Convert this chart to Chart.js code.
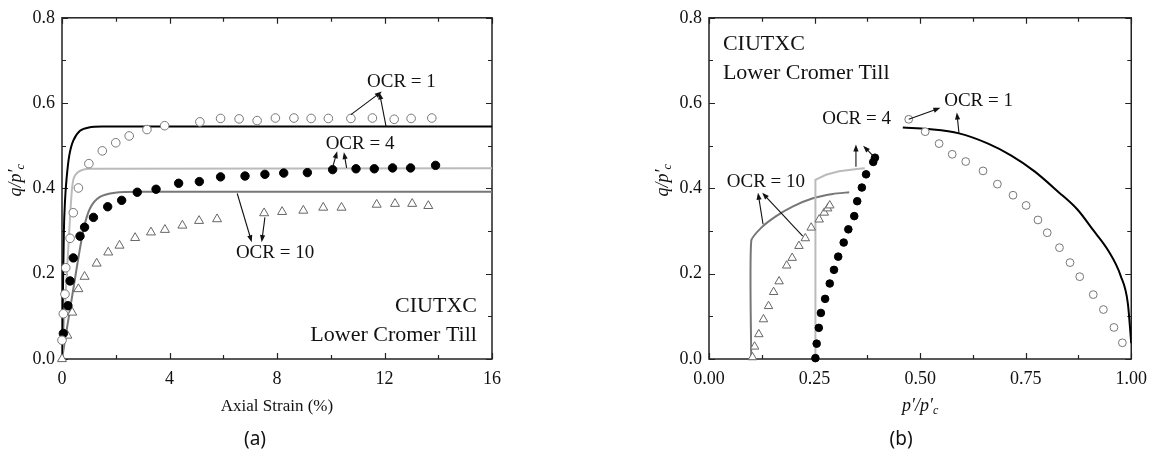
<!DOCTYPE html>
<html lang="en">
<head>
    <meta charset="UTF-8">
    <title>CIUTXC Lower Cromer Till</title>
    <script src="https://cdn.jsdelivr.net/npm/chart.js"></script>
    <style>
        body { margin: 0; background: #fff; }
        #wrap { position: relative; width: 1156px; height: 457px; overflow: hidden; }
        canvas { position: absolute; top: 0; }
        #chartA { left: 0; }
        #chartB { left: 580px; }
    </style>
</head>
<body>
<div id="wrap">
    <canvas id="chartA" width="540" height="457"></canvas>
    <canvas id="chartB" width="576" height="457"></canvas>
</div>
<script>
    // ---- panel (a): q/p'c against axial strain (%) ----
    var strainOcr1 = [0, 0.05, 0.11, 0.14, 0.3, 0.42, 0.61, 1.0, 1.5, 2.0, 2.5, 3.16, 3.82, 5.13, 5.9, 6.59, 7.26, 7.94, 8.63, 9.27, 9.91, 10.75, 11.55, 12.36, 12.99, 13.76];
    var qOcr1 = [0.044, 0.106, 0.152, 0.214, 0.283, 0.343, 0.401, 0.458, 0.488, 0.507, 0.523, 0.538, 0.547, 0.556, 0.564, 0.563, 0.559, 0.565, 0.565, 0.564, 0.564, 0.564, 0.565, 0.562, 0.564, 0.565];
    var strainOcr4 = [0.05, 0.22, 0.3, 0.42, 0.67, 0.84, 1.17, 1.7, 2.22, 2.8, 3.5, 4.34, 5.11, 5.9, 6.81, 7.55, 8.25, 9.13, 10.07, 10.94, 11.62, 12.3, 12.97, 13.9];
    var qOcr4 = [0.06, 0.125, 0.183, 0.237, 0.288, 0.309, 0.332, 0.357, 0.372, 0.391, 0.398, 0.412, 0.416, 0.427, 0.429, 0.433, 0.436, 0.437, 0.444, 0.446, 0.446, 0.448, 0.448, 0.454];
    var strainOcr10 = [0, 0.2, 0.38, 0.61, 0.84, 1.29, 1.72, 2.14, 2.72, 3.31, 3.83, 4.48, 5.1, 5.77, 7.52, 8.19, 8.98, 9.72, 10.4, 11.71, 12.39, 13.03, 13.63];
    var qOcr10 = [0, 0.055, 0.109, 0.164, 0.193, 0.224, 0.25, 0.266, 0.284, 0.297, 0.303, 0.313, 0.324, 0.328, 0.342, 0.345, 0.348, 0.355, 0.355, 0.362, 0.364, 0.364, 0.359];

    // model curves (a)
    var fitStrain1 = [0, 0.07, 0.11, 0.17, 0.27, 0.42, 0.67, 1.0, 1.5, 16];
    var fitQ1 = [0, 0.3, 0.369, 0.423, 0.477, 0.512, 0.535, 0.543, 0.545, 0.545];
    var fitStrain4 = [0, 0.27, 0.36, 0.42, 0.5, 0.7, 1.0, 16];
    var fitQ4 = [0, 0.3, 0.39, 0.42, 0.432, 0.442, 0.446, 0.447];
    var fitStrain10 = [0, 0.4, 0.79, 1.04, 1.41, 1.97, 3, 16];
    var fitQ10 = [0, 0.156, 0.3, 0.353, 0.38, 0.39, 0.392, 0.392];

    // ---- panel (b): q/p'c against p'/p'c ----
    var pOcr1 = [0.473, 0.512, 0.545, 0.576, 0.608, 0.649, 0.683, 0.72, 0.751, 0.779, 0.801, 0.83, 0.855, 0.878, 0.91, 0.934, 0.959, 0.979];
    var qOcr1b = [0.562, 0.533, 0.505, 0.48, 0.463, 0.441, 0.41, 0.384, 0.36, 0.326, 0.296, 0.261, 0.226, 0.193, 0.151, 0.116, 0.074, 0.038];
    var pOcr4 = [0.252, 0.255, 0.26, 0.265, 0.275, 0.286, 0.296, 0.306, 0.319, 0.33, 0.344, 0.351, 0.362, 0.372, 0.389, 0.393];
    var qOcr4b = [0.002, 0.036, 0.073, 0.108, 0.141, 0.177, 0.209, 0.24, 0.273, 0.304, 0.335, 0.37, 0.402, 0.433, 0.462, 0.472];
    var pOcr10 = [0.103, 0.108, 0.118, 0.129, 0.141, 0.153, 0.166, 0.184, 0.197, 0.213, 0.228, 0.242, 0.261, 0.273, 0.281, 0.286];
    var qOcr10b = [0.004, 0.029, 0.058, 0.093, 0.124, 0.157, 0.182, 0.219, 0.237, 0.265, 0.283, 0.308, 0.327, 0.343, 0.353, 0.36];

    // model curves (b)
    var fitP1 = [0.459, 0.52, 0.592, 0.661, 0.716, 0.771, 0.826, 0.873, 0.91, 0.945, 0.975, 0.992, 1.0];
    var fitQ1b = [0.543, 0.539, 0.529, 0.505, 0.477, 0.44, 0.393, 0.35, 0.302, 0.255, 0.195, 0.13, 0.037];
    var fitP4 = [0.252, 0.252, 0.277, 0.308, 0.355, 0.369];
    var fitQ4b = [0, 0.42, 0.432, 0.44, 0.446, 0.447];
    var fitP10 = [0.1, 0.1, 0.124, 0.159, 0.199, 0.246, 0.293, 0.332];
    var fitQ10b = [0, 0.277, 0.308, 0.335, 0.358, 0.377, 0.387, 0.391];

    var serif = '"Liberation Serif", "Times New Roman", serif';

    function pts(xs, ys) {
        return xs.map(function (v, i) { return { x: v, y: ys[i] }; });
    }

    function openCircles(xs, ys, r) {
        return { data: pts(xs, ys), pointStyle: 'circle', pointRadius: r, backgroundColor: '#fff',
            borderColor: '#777', pointBorderWidth: 1, showLine: false, clip: false };
    }
    function dots(xs, ys, r) {
        return { data: pts(xs, ys), pointStyle: 'circle', pointRadius: r, backgroundColor: '#000',
            borderColor: '#000', pointBorderWidth: 1, showLine: false, clip: false };
    }
    function triangles(xs, ys, r) {
        return { data: pts(xs, ys), pointStyle: 'triangle', pointRadius: r, backgroundColor: '#fff',
            borderColor: '#666', pointBorderWidth: 1, showLine: false, clip: false };
    }
    function curve(xs, ys, color, w, tension) {
        return { data: pts(xs, ys), showLine: true, pointRadius: 0, borderColor: color,
            borderWidth: w, tension: tension, fill: false };
    }

    // rich text: q/p'c with subscript
    function drawParts(ctx, parts, cx, cy) {
        var total = 0;
        parts.forEach(function (p) {
            ctx.font = 'italic ' + p.size + 'px ' + serif;
            p.w = ctx.measureText(p.t).width;
            total += p.w;
        });
        var x = cx - total / 2;
        ctx.textBaseline = 'middle';
        ctx.textAlign = 'left';
        parts.forEach(function (p) {
            ctx.font = 'italic ' + p.size + 'px ' + serif;
            ctx.fillText(p.t, x, cy + (p.dy || 0));
            x += p.w;
        });
    }

    function arrow(ctx, x1, y1, x2, y2) {
        var ang = Math.atan2(y2 - y1, x2 - x1);
        var hl = 7, hw = 2.6;
        ctx.beginPath();
        ctx.moveTo(x1, y1);
        ctx.lineTo(x2 - Math.cos(ang) * hl * 0.8, y2 - Math.sin(ang) * hl * 0.8);
        ctx.stroke();
        ctx.beginPath();
        ctx.moveTo(x2, y2);
        ctx.lineTo(x2 - Math.cos(ang) * hl - Math.sin(ang) * hw, y2 - Math.sin(ang) * hl + Math.cos(ang) * hw);
        ctx.lineTo(x2 - Math.cos(ang) * hl + Math.sin(ang) * hw, y2 - Math.sin(ang) * hl - Math.cos(ang) * hw);
        ctx.closePath();
        ctx.fill();
    }

    var framePlugin = {
        id: 'frame',
        beforeDatasetsDraw: function (chart, args, opts) {
            var ctx = chart.ctx, a = chart.chartArea, sx = chart.scales.x, sy = chart.scales.y;
            ctx.save();
            ctx.strokeStyle = '#222';
            ctx.lineWidth = 1.5;
            ctx.strokeRect(a.left, a.top, a.right - a.left, a.bottom - a.top);
            ctx.lineWidth = 1.2;
            var xv = sx.ticks.map(function (t) { return t.value; });
            var yv = sy.ticks.map(function (t) { return t.value; });
            function xtick(v, len) {
                var px = Math.round(sx.getPixelForValue(v)) + 0.5;
                ctx.beginPath();
                ctx.moveTo(px, a.bottom); ctx.lineTo(px, a.bottom - len);
                ctx.moveTo(px, a.top); ctx.lineTo(px, a.top + len);
                ctx.stroke();
            }
            function ytick(v, len) {
                var py = Math.round(sy.getPixelForValue(v)) + 0.5;
                ctx.beginPath();
                ctx.moveTo(a.left, py); ctx.lineTo(a.left + len, py);
                ctx.moveTo(a.right, py); ctx.lineTo(a.right - len, py);
                ctx.stroke();
            }
            xv.forEach(function (v, i) {
                xtick(v, 6);
                if (i < xv.length - 1) xtick((v + xv[i + 1]) / 2, 4);
            });
            yv.forEach(function (v, i) {
                ytick(v, 6);
                if (i < yv.length - 1) ytick((v + yv[i + 1]) / 2, 4);
            });
            ctx.restore();
        },
        afterDraw: function (chart, args, opts) {
            var ctx = chart.ctx, a = chart.chartArea, sx = chart.scales.x, sy = chart.scales.y;
            ctx.save();
            ctx.fillStyle = '#111';
            ctx.strokeStyle = '#111';
            ctx.lineWidth = 1.1;

            // y title, rotated
            ctx.save();
            ctx.translate(a.left - 46, (a.top + a.bottom) / 2 - 8);
            ctx.rotate(-Math.PI / 2);
            drawParts(ctx, [{ t: 'q/p′', size: 18 }, { t: 'c', size: 12, dy: 5 }], 0, 0);
            ctx.restore();

            // x title
            var midX = (a.left + a.right) / 2;
            if (opts.xTitle === 'strain') {
                ctx.font = '17px ' + serif;
                ctx.textAlign = 'center';
                ctx.textBaseline = 'middle';
                ctx.fillText('Axial Strain (%)', midX, a.bottom + 48);
            } else {
                drawParts(ctx, [{ t: 'p′/p′', size: 18 }, { t: 'c', size: 12, dy: 5 }], midX, a.bottom + 47);
            }

            // panel label
            ctx.font = '19px "Noto Sans", "DejaVu Sans", sans-serif';
            ctx.textAlign = 'center';
            ctx.textBaseline = 'middle';
            ctx.fillText(opts.panel, midX - (opts.panelShift || 0), 440);

            // annotations
            opts.notes.forEach(function (n) {
                ctx.font = n.size + 'px ' + serif;
                ctx.textAlign = n.align;
                ctx.textBaseline = 'middle';
                ctx.fillText(n.text, sx.getPixelForValue(n.x), sy.getPixelForValue(n.y));
            });
            opts.arrows.forEach(function (r) {
                arrow(ctx, sx.getPixelForValue(r[0]), sy.getPixelForValue(r[1]),
                    sx.getPixelForValue(r[2]), sy.getPixelForValue(r[3]));
            });
            ctx.restore();
        }
    };

    function axes(xMax, xStep, xDigits, xPad, leftPad, rightPad, topPad) {
        return {
            responsive: false,
            animation: false,
            events: [],
            layout: { padding: { left: leftPad, right: rightPad, top: topPad, bottom: 0 } },
            scales: {
                x: {
                    type: 'linear', min: 0, max: xMax,
                    grid: { display: false, drawTicks: false },
                    border: { display: false },
                    ticks: { stepSize: xStep, padding: xPad, color: '#111', maxRotation: 0, autoSkip: false,
                        font: { family: serif, size: 18 },
                        callback: function (v) { return v.toFixed(xDigits); } },
                    afterFit: function (s) { s.height = 98; }
                },
                y: {
                    type: 'linear', min: 0, max: 0.8,
                    grid: { display: false, drawTicks: false },
                    border: { display: false },
                    ticks: { stepSize: 0.2, padding: 7, color: '#111', autoSkip: false,
                        font: { family: serif, size: 18 },
                        callback: function (v) { return v.toFixed(1); } },
                    afterFit: function (s) { s.width = 62; }
                }
            }
        };
    }

    var optsA = axes(16, 4, 0, 9, 0, 48, 14);
    optsA.plugins = {
        legend: { display: false },
        tooltip: { enabled: false },
        frame: {
            xTitle: 'strain',
            panel: '(a)',
            panelShift: 22,
            notes: [
                { text: 'OCR = 1', x: 11.35, y: 0.649, size: 19, align: 'left' },
                { text: 'OCR = 4', x: 9.81, y: 0.505, size: 19, align: 'left' },
                { text: 'OCR = 10', x: 6.47, y: 0.248, size: 19, align: 'left' },
                { text: 'CIUTXC', x: 15.44, y: 0.123, size: 22, align: 'right' },
                { text: 'Lower Cromer Till', x: 15.44, y: 0.056, size: 22, align: 'right' }
            ],
            arrows: [
                [10.75, 0.573, 11.9, 0.627],
                [12.06, 0.545, 11.81, 0.625],
                [10.09, 0.454, 10.24, 0.487],
                [10.59, 0.448, 10.49, 0.485],
                [6.52, 0.388, 7.06, 0.274],
                [7.55, 0.332, 7.43, 0.274]
            ]
        }
    };

    new Chart(document.getElementById('chartA'), {
        type: 'scatter',
        data: {
            datasets: [
                openCircles(strainOcr1, qOcr1, 4.3),
                dots(strainOcr4, qOcr4, 4.2),
                triangles(strainOcr10, qOcr10, 5.2),
                curve(fitStrain1, fitQ1, '#000', 2, 0.3),
                curve(fitStrain4, fitQ4, '#bbb', 2, 0.3),
                curve(fitStrain10, fitQ10, '#777', 2, 0.3)
            ]
        },
        options: optsA,
        plugins: [framePlugin]
    });

    var optsB = axes(1, 0.25, 2, 9, 67, 22, 15);
    optsB.plugins = {
        legend: { display: false },
        tooltip: { enabled: false },
        frame: {
            xTitle: 'p',
            panel: '(b)',
            panelShift: 19,
            notes: [
                { text: 'CIUTXC', x: 0.033, y: 0.737, size: 22, align: 'left' },
                { text: 'Lower Cromer Till', x: 0.033, y: 0.67, size: 22, align: 'left' },
                { text: 'OCR = 4', x: 0.268, y: 0.563, size: 19, align: 'left' },
                { text: 'OCR = 10', x: 0.042, y: 0.416, size: 19, align: 'left' },
                { text: 'OCR = 1', x: 0.557, y: 0.605, size: 19, align: 'left' }
            ],
            arrows: [
                [0.348, 0.451, 0.348, 0.503],
                [0.395, 0.47, 0.365, 0.5],
                [0.128, 0.316, 0.116, 0.39],
                [0.222, 0.288, 0.126, 0.39],
                [0.473, 0.562, 0.548, 0.589],
                [0.592, 0.529, 0.587, 0.578]
            ]
        }
    };

    var capCurve = curve(fitP1, fitQ1b, '#000', 2, 0);
    capCurve.cubicInterpolationMode = 'monotone';

    new Chart(document.getElementById('chartB'), {
        type: 'scatter',
        data: {
            datasets: [
                openCircles(pOcr1, qOcr1b, 3.9),
                dots(pOcr4, qOcr4b, 3.8),
                triangles(pOcr10, qOcr10b, 4.9),
                capCurve,
                curve(fitP4, fitQ4b, '#bbb', 2, 0),
                curve(fitP10, fitQ10b, '#777', 2, 0.2)
            ]
        },
        options: optsB,
        plugins: [framePlugin]
    });
</script>
</body>
</html>
